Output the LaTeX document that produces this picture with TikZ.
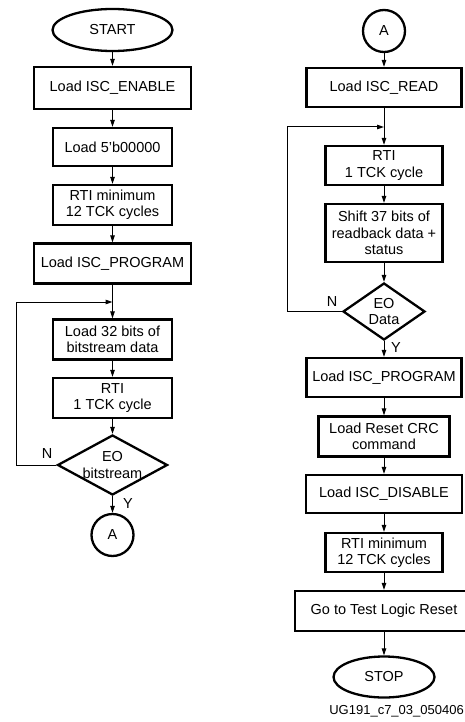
\documentclass[tikz,border=0pt]{standalone}
\usepackage{fontspec}
\setmainfont{Liberation Sans}
\usetikzlibrary{shapes.geometric,arrows.meta}
\newcommand\diagfont{\fontsize{14.5}{16.5}\selectfont}
\begin{document}
\begin{tikzpicture}[x=1pt,y=-1pt,
  box/.style={draw,line width=2.3pt,inner sep=0pt,align=center,font=\diagfont,minimum width=#1},
  box/.default=119,
  term/.style={draw,line width=2.3pt,ellipse,inner sep=0pt,font=\diagfont},
  conn/.style={draw,circle,line width=2.3pt,inner sep=0pt,minimum size=42,font=\diagfont},
  decision/.style={draw,diamond,line width=2.3pt,inner sep=0pt,align=center,font=\diagfont},
  arr/.style={line width=1pt,-{Triangle[length=7pt,width=4.5pt]}},
  lbl/.style={font=\diagfont,inner sep=0pt}]
\useasboundingbox (0,0) rectangle (465,722);
% left column
\node[term,minimum width=120,minimum height=42] (start) at (112.5,30) {START};
\node[box=157,minimum height=42] (enable) at (112.5,88) {Load ISC\_ENABLE};
\node[box,minimum height=38] (b5) at (112.5,147) {Load 5'b00000};
\node[box,minimum height=40] (rtimin) at (112.5,205) {RTI minimum\\12 TCK cycles};
\node[box=157,minimum height=40] (prog) at (112.5,263.5) {Load ISC\_PROGRAM};
\node[box,minimum height=40] (l32) at (112.5,339.5) {Load 32 bits of\\bitstream data};
\node[box,minimum height=40] (rtione) at (112.5,398) {RTI\\1 TCK cycle};
\node[decision,minimum width=110,minimum height=60,shape aspect=1.8] (dbit) at (112.5,465) {EO\\bitstream};
\node[conn] (aone) at (112.5,535) {A};
\node[lbl] (nl) at (47,454) {N};
\node[lbl] (yl) at (128,504) {Y};
\coordinate (lj) at (112.5,302);
\coordinate (lc) at (16,302);
\draw[arr] (start) -- (enable);
\draw[arr] (enable) -- (b5);
\draw[arr] (b5) -- (rtimin);
\draw[arr] (rtimin) -- (prog);
\draw[arr] (prog) -- (l32);
\draw[arr] (l32) -- (rtione);
\draw[arr] (rtione) -- (dbit);
\draw[arr] (dbit) -- (aone);
\draw[arr] (dbit.west) -| (lc) -- (lj);
% right column
\node[conn] (atwo) at (384,31) {A};
\node[box=155,minimum height=39] (read) at (384,87.5) {Load ISC\_READ};
\node[box=117,minimum height=39] (rtitwo) at (384,165.5) {RTI\\1 TCK cycle};
\node[box=117,minimum height=58] (shift) at (384,233) {Shift 37 bits of\\readback data +\\status};
\node[decision,minimum width=82,minimum height=57,shape aspect=1.45] (ddata) at (384,311.5) {EO\\Data};
\node[box=155,minimum height=39] (progr) at (384,377.5) {Load ISC\_PROGRAM};
\node[box=131,minimum height=40] (crc) at (384,436.5) {Load Reset CRC\\command};
\node[box=156,minimum height=38] (dis) at (384,494) {Load ISC\_DISABLE};
\node[box=117,minimum height=39] (rtimintwo) at (384,552.5) {RTI minimum\\12 TCK cycles};
\node[box=178,minimum height=40] (tlr) at (384,611) {Go to Test Logic Reset};
\node[term,minimum width=101,minimum height=41] (stop) at (384,677) {STOP};
\node[lbl] (nr) at (332,302) {N};
\node[lbl] (yr) at (396,348) {Y};
\coordinate (rj) at (384,127);
\coordinate (rc) at (287,127);
\draw[arr] (atwo) -- (read);
\draw[arr] (read) -- (rtitwo);
\draw[arr] (rtitwo) -- (shift);
\draw[arr] (shift) -- (ddata);
\draw[arr] (ddata) -- (progr);
\draw[arr] (progr) -- (crc);
\draw[arr] (crc) -- (dis);
\draw[arr] (dis) -- (rtimintwo);
\draw[arr] (rtimintwo) -- (tlr);
\draw[arr] (tlr) -- (stop);
\draw[arr] (ddata.west) -| (rc) -- (rj);
\node[anchor=east,inner sep=0pt,font=\fontsize{13}{15}\selectfont] (cap) at (464,711) {UG191\_c7\_03\_050406};
\end{tikzpicture}
\end{document}
